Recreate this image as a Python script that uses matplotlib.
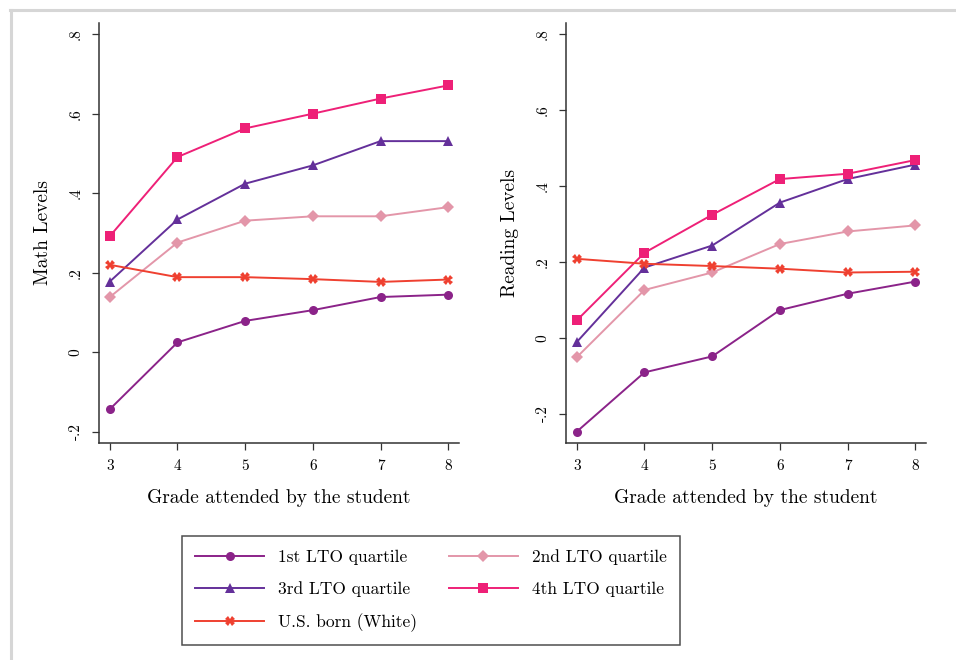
import numpy as np
import matplotlib as mpl
import matplotlib.pyplot as plt
from matplotlib.lines import Line2D

# Computer Modern look, like the TeX/Stata original
mpl.rcParams['font.family'] = 'cmr10'
mpl.rcParams['mathtext.fontset'] = 'cm'
mpl.rcParams['axes.unicode_minus'] = False

grades = [3, 4, 5, 6, 7, 8]

math_q1 = [-0.143, 0.025, 0.079, 0.106, 0.139, 0.145]
math_q2 = [0.139, 0.276, 0.331, 0.342, 0.342, 0.365]
math_q3 = [0.178, 0.334, 0.424, 0.470, 0.531, 0.531]
math_q4 = [0.292, 0.491, 0.563, 0.600, 0.638, 0.671]
math_us = [0.220, 0.189, 0.189, 0.184, 0.177, 0.183]

read_q1 = [-0.247, -0.091, -0.049, 0.073, 0.116, 0.148]
read_q2 = [-0.051, 0.126, 0.172, 0.247, 0.280, 0.296]
read_q3 = [-0.011, 0.185, 0.243, 0.356, 0.418, 0.456]
read_q4 = [0.046, 0.224, 0.324, 0.418, 0.432, 0.468]
read_us = [0.208, 0.195, 0.189, 0.182, 0.172, 0.174]

labels = ['1st LTO quartile', '2nd LTO quartile', '3rd LTO quartile',
          '4th LTO quartile', 'U.S. born (White)']
colors = ['#8b2389', '#e396a9', '#64309a', '#ee2077', '#ef4030']
markers = ['o', 'D', '^', 's', 'X']
msizes = [6.5, 6, 6.5, 6.5, 6.5]

yticks = [-0.2, 0, 0.2, 0.4, 0.6, 0.8]
ytick_labels = ['-.2', '0', '.2', '.4', '.6', '.8']

fig = plt.figure(figsize=(9.56, 6.6), dpi=100)

# light grey frame cropped from the page (top and left edges)
fig.add_artist(Line2D([10/956, 1], [1 - 10/660, 1 - 10/660], color='#d6d6d6', lw=2.2,
                      transform=fig.transFigure))
fig.add_artist(Line2D([11/956, 11/956], [0, 1 - 10/660], color='#d6d6d6', lw=2.2,
                      transform=fig.transFigure))

ax1 = fig.add_axes([99/956, 1 - 443/660, 360/956, 420/660])
ax2 = fig.add_axes([566/956, 1 - 443/660, 360/956, 420/660])

panels = [
    (ax1, [math_q1, math_q2, math_q3, math_q4, math_us], 'Math Levels', (-0.228, 0.828)),
    (ax2, [read_q1, read_q2, read_q3, read_q4, read_us], 'Reading Levels', (-0.277, 0.829)),
]

for ax, series, ylab, ylim in panels:
    for vals, lab, c, m, ms in zip(series, labels, colors, markers, msizes):
        ax.plot(grades, vals, color=c, marker=m, markersize=ms, lw=1.4,
                label=lab, markeredgewidth=0)
    ax.set_xlim(2.84, 8.16)
    ax.set_ylim(*ylim)
    ax.set_xticks(grades)
    ax.set_yticks(yticks)
    ax.set_yticklabels(ytick_labels, rotation=90, va='center')
    ax.tick_params(labelsize=11, length=5, width=0.9, color='#333333', pad=7)
    ax.spines['top'].set_visible(False)
    ax.spines['right'].set_visible(False)
    for s in ['left', 'bottom']:
        ax.spines[s].set_linewidth(1.1)
        ax.spines[s].set_color('#333333')
    ax.set_xlabel('Grade attended by the student', fontsize=14, labelpad=11)
    ax.set_ylabel(ylab, fontsize=14, labelpad=12)

# Stata fills the legend row by row; matplotlib fills by column
handles, labs = ax1.get_legend_handles_labels()
order = [0, 2, 4, 1, 3]
leg = fig.legend([handles[i] for i in order], [labs[i] for i in order],
                 ncol=2, loc='upper left',
                 bbox_to_anchor=(182/956, 1 - 536/660), fontsize=12.5,
                 frameon=True, fancybox=False, edgecolor='#222222',
                 handlelength=4.0, columnspacing=1.8, borderpad=0.75,
                 labelspacing=0.95, handletextpad=0.8, borderaxespad=0)
leg.get_frame().set_linewidth(1.1)

fig.savefig('out.png', dpi=100, facecolor='white')
